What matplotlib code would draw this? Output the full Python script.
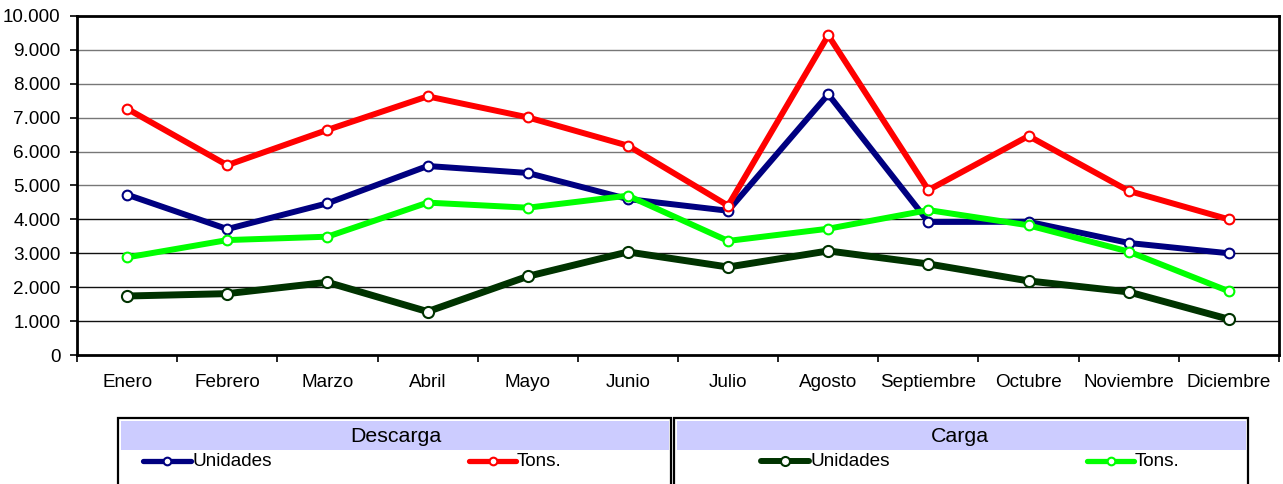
import matplotlib
matplotlib.use('Agg')
import matplotlib.pyplot as plt
from matplotlib.patches import Rectangle
from matplotlib.lines import Line2D
from matplotlib.ticker import FuncFormatter

# meses y movimientos (unidades / toneladas)
meses = ['Enero', 'Febrero', 'Marzo', 'Abril', 'Mayo', 'Junio', 'Julio',
         'Agosto', 'Septiembre', 'Octubre', 'Noviembre', 'Diciembre']
desc_unid = [4730, 3715, 4475, 5575, 5370, 4600, 4255, 7690, 3925, 3930, 3305, 3000]
desc_tons = [7265, 5600, 6640, 7630, 7010, 6175, 4405, 9430, 4865, 6460, 4840, 4000]
carga_unid = [1740, 1810, 2145, 1280, 2320, 3040, 2595, 3070, 2685, 2185, 1860, 1055]
carga_tons = [2880, 3390, 3490, 4495, 4345, 4700, 3365, 3725, 4275, 3825, 3050, 1880]

C_AZUL = '#000080'
C_ROJO = '#ff0000'
C_VERDE_OSC = '#003300'
C_VERDE = '#00ff00'

plt.rcParams['font.family'] = ['Liberation Sans', 'DejaVu Sans']
FS = 13.6

W, H = 1283, 484
fig = plt.figure(figsize=(W / 100, H / 100), dpi=100)
ax = fig.add_axes([77 / W, 129 / H, 1202 / W, 339 / H])

xs = [i + 0.5 for i in range(len(meses))]

def serie(vals, color, lw=4.3, ms=7, z=3):
    ax.plot(xs, vals, color=color, lw=lw, marker='o', ms=ms,
            mfc='white', mec=color, mew=1.5, zorder=z)

serie(desc_unid, C_AZUL, z=3)
serie(desc_tons, C_ROJO, z=4)
serie(carga_unid, C_VERDE_OSC, lw=5, ms=8, z=2)
serie(carga_tons, C_VERDE, z=5)

ax.set_xlim(0, 12)
ax.set_ylim(0, 10000)
ax.set_yticks(range(0, 10001, 1000))
ax.yaxis.set_major_formatter(FuncFormatter(lambda v, p: f'{int(v):,}'.replace(',', '.')))
ax.tick_params(axis='y', length=5, width=1.2, pad=7, labelsize=FS)

ax.set_xticks(range(13))
ax.set_xticklabels([])
ax.set_xticks(xs, minor=True)
ax.set_xticklabels(meses, minor=True)
ax.tick_params(axis='x', which='major', length=5, width=1.2)
ax.tick_params(axis='x', which='minor', length=0, pad=14, labelsize=FS)

# lineas horizontales: las de arriba salen mas claras
for v in range(1000, 10000, 1000):
    ax.axhline(v, color='#777777' if v >= 5000 else '#111111', lw=1, zorder=1)

for s in ax.spines.values():
    s.set_linewidth(2)
    s.set_color('black')

# leyenda en forma de tabla bajo el grafico
def fx(x):
    return x / W

def fy(y):
    return 1 - y / H

def caja(x0, x1, y0, y1, **kw):
    fig.add_artist(Rectangle((fx(x0), fy(y1)), fx(x1) - fx(x0), fy(y0) - fy(y1),
                             transform=fig.transFigure, **kw))

def entrada(x0, x1, color, texto, ms=5.5, lw=3.8):
    y = fy(461)
    fig.add_artist(Line2D([fx(x0), fx(x1)], [y, y], transform=fig.transFigure,
                          color=color, lw=lw, solid_capstyle='round'))
    fig.add_artist(Line2D([fx((x0 + x1) / 2)], [y], transform=fig.transFigure,
                          marker='o', ms=ms, mfc='white', mec=color, mew=1.5))
    fig.text(fx(x1 + 1), y, texto, ha='left', va='center', fontsize=FS)

caja(118, 671, 418, 500, facecolor='white', edgecolor='black', lw=1.6)
caja(674, 1248, 418, 500, facecolor='white', edgecolor='black', lw=1.6)
caja(121, 669, 421, 450, facecolor='#ccccff', edgecolor='none')
caja(677, 1246, 421, 450, facecolor='#ccccff', edgecolor='none')
fig.text(fx(396), fy(436), 'Descarga', ha='center', va='center', fontsize=15.4)
fig.text(fx(960), fy(436), 'Carga', ha='center', va='center', fontsize=15.4)

entrada(143, 191, C_AZUL, 'Unidades')
entrada(469, 516, C_ROJO, 'Tons.')
entrada(761, 809, C_VERDE_OSC, 'Unidades', ms=6.5, lw=4.3)
entrada(1087, 1134, C_VERDE, 'Tons.')

fig.savefig('out.png', dpi=100)
